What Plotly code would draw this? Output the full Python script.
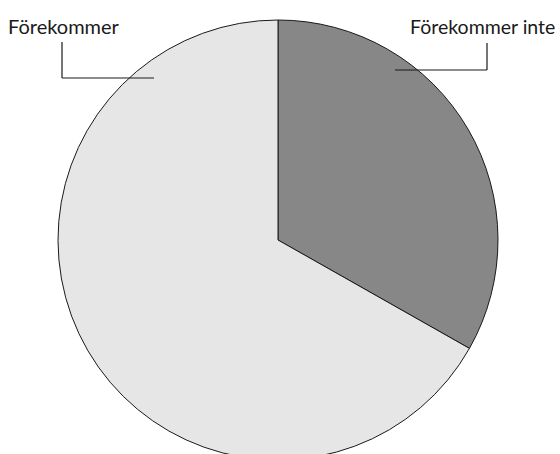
import plotly.graph_objects as go

labels = ["Förekommer inte", "Förekommer"]
values = [33.2, 66.8]
colors = ["#878787", "#e6e6e6"]

# figure is a bit taller than the 454px window so the pie's bottom runs off-page like the reference
W, H = 560, 460

def px(x):
    return x / W

def py(y):
    return 1 - y / H

fig = go.Figure(go.Pie(
    labels=labels,
    values=values,
    sort=False,
    direction="clockwise",
    rotation=0,
    marker=dict(colors=colors, line=dict(color="#1a1a1a", width=1)),
    textinfo="none",
    hoverinfo="label+percent",
    domain=dict(x=[px(58), px(498)], y=[0, py(20)]),
    showlegend=False,
))

line_style = dict(color="#1a1a1a", width=1.2)
shapes = [
    dict(type="line", xref="paper", yref="paper", x0=px(62), y0=py(42), x1=px(62), y1=py(78), line=line_style),
    dict(type="line", xref="paper", yref="paper", x0=px(62), y0=py(78), x1=px(154), y1=py(78), line=line_style),
    dict(type="line", xref="paper", yref="paper", x0=px(487), y0=py(43), x1=px(487), y1=py(70), line=line_style),
    dict(type="line", xref="paper", yref="paper", x0=px(487), y0=py(70), x1=px(395), y1=py(70), line=line_style),
]

font = dict(family="Lato, 'Open Sans', sans-serif", size=20, color="#1a1a1a")
font_r = dict(family="Lato, 'Open Sans', sans-serif", size=19.5, color="#1a1a1a")
annotations = [
    dict(text=labels[1], xref="paper", yref="paper", x=px(6), y=py(26), xanchor="left", yanchor="middle", showarrow=False, font=font),
    dict(text=labels[0], xref="paper", yref="paper", x=px(557), y=py(26), xanchor="right", yanchor="middle", showarrow=False, font=font_r),
]

fig.update_layout(
    width=W, height=H,
    margin=dict(l=0, r=0, t=0, b=0),
    paper_bgcolor="white",
    plot_bgcolor="white",
    shapes=shapes,
    annotations=annotations,
)

fig.write_html(
    "out.html",
    config={"displayModeBar": False},
    post_script="document.body.style.margin='0';document.body.style.overflow='hidden';",
)
